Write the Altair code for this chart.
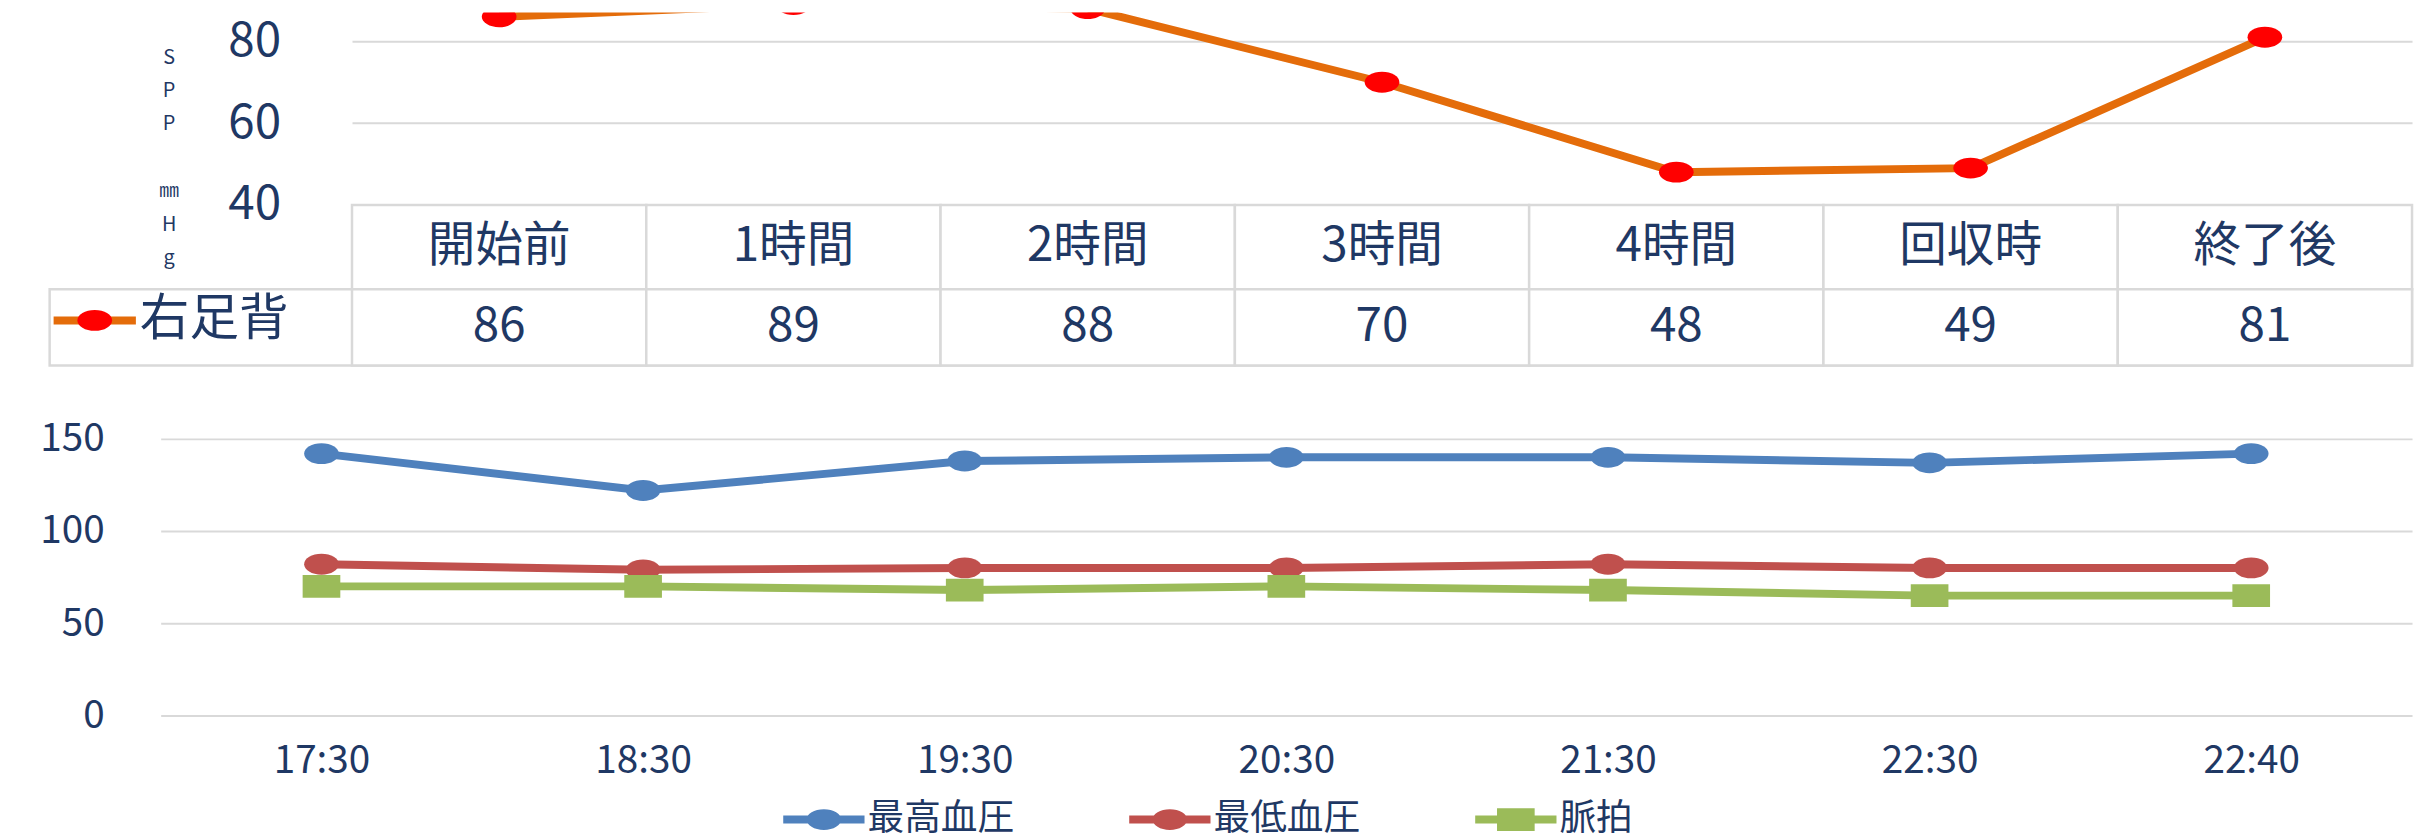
import altair as alt
import pandas as pd

# ---------------- data ----------------
spp_points = ["開始前", "1時間", "2時間", "3時間", "4時間", "回収時", "終了後"]
spp_values = [86, 89, 88, 70, 48, 49, 81]
spp_series = "右足背"
spp_ticks = [40, 60, 80]

vital_times = ["17:30", "18:30", "19:30", "20:30", "21:30", "22:30", "22:40"]
sbp = [142, 122, 138, 140, 140, 137, 142]
dbp = [82, 79, 80, 80, 82, 80, 80]
pulse = [70, 70, 68, 70, 68, 65, 65]
vital_series = ["最高血圧", "最低血圧", "脈拍"]
vital_ticks = [0, 50, 100, 150]

# ---------------- style ----------------
FONT = "Noto Sans CJK JP"
NAVY = "#1F3864"
GRID = "#D9D9D9"
ORANGE = "#E46C0A"
RED = "#FF0000"
VCOLORS = ["#4F81BD", "#C0504D", "#9BBB59"]
W = 2383

ELL = "M-1,0A1,0.6,0,1,1,1,0A1,0.6,0,1,1,-1,0Z"
RECT = "M-1,-0.6L1,-0.6L1,0.6L-1,0.6Z"
LEG_LINE = "M-1,-0.1L1,-0.1L1,0.1L-1,0.1Z"
LEG_ELL = "M-0.427,0A0.427,0.256,0,1,1,0.427,0A0.427,0.256,0,1,1,-0.427,0Z"
LEG_RECT = "M-0.463,-0.28L0.463,-0.28L0.463,0.28L-0.463,0.28Z"
TOP_LEG_ELL = "M-0.422,0A0.422,0.253,0,1,1,0.422,0A0.422,0.253,0,1,1,-0.422,0Z"

df_top = pd.DataFrame({"時点": spp_points, "SPP": spp_values,
                       "系列": [spp_series] * len(spp_points),
                       "行": ["r"] * len(spp_points)})

rows = []
for s, vals in zip(vital_series, [sbp, dbp, pulse]):
    for t, v in zip(vital_times, vals):
        rows.append({"時刻": t, "系列": s, "値": v})
df_v = pd.DataFrame(rows)

# ---------------- top chart ----------------
xs_top = alt.Scale(domain=spp_points, range=[305, W], paddingInner=0, paddingOuter=0)
x_top = alt.X("時点:N", sort=spp_points, scale=xs_top, axis=None)
y_top = alt.Y("SPP:Q", scale=alt.Scale(domain=[40, 87.03], nice=False, zero=False),
              axis=alt.Axis(values=spp_ticks, grid=True, gridColor=GRID, gridWidth=2,
                            domain=False, ticks=False, tickSize=0, labelPadding=-233, minExtent=0,
                            labelFontSize=48, labelColor=NAVY, labelFont=FONT,
                            title=["S", "P", "P", "\u2800", "㎜", "H", "g"], titleAngle=0,
                            titleFontSize=20, titleFont=FONT, titleColor=NAVY,
                            titleFontWeight="normal", titleLineHeight=33.7,
                            titleAlign="center", titleBaseline="top",
                            titleX=120, titleY=35))

top_line = alt.Chart(df_top).mark_line(strokeWidth=8, clip=True).encode(
    x=x_top, y=y_top,
    color=alt.Color("系列:N", scale=alt.Scale(domain=[spp_series], range=[ORANGE]),
                    legend=alt.Legend(orient="none", legendX=0, legendY=265, title=None,
                                      symbolType="M-1,0L1,0", symbolSize=83 ** 2,
                                      symbolStrokeWidth=8, labelFontSize=50, labelFont=FONT,
                                      labelColor=NAVY, labelOffset=0, padding=0,
                                      labelLimit=400, zindex=1)))

top_pts = alt.Chart(df_top).transform_calculate(mk="'●'").mark_point(
    filled=True, shape=ELL, size=1225, opacity=1, strokeWidth=0, clip=True).encode(
    x=x_top, y=y_top,
    fill=alt.Fill("mk:N", scale=alt.Scale(domain=["●"], range=[RED]),
                  legend=alt.Legend(orient="none", legendX=0, legendY=265, title=None,
                                    symbolType=TOP_LEG_ELL, symbolSize=83 ** 2,
                                    symbolStrokeWidth=8, symbolStrokeColor="transparent",
                                    labelExpr="''", padding=0, zindex=2)))

top = alt.layer(top_line, top_pts).properties(
    width=W, height=194, view=alt.ViewBackground(fill="white", stroke="transparent"))

# ---------------- table rows ----------------
x_tab = alt.X("時点:N", sort=spp_points, scale=xs_top, axis=None)
y_row = alt.Y("行:N", axis=None, scale=alt.Scale(paddingInner=0, paddingOuter=0))

hdr_rect = alt.Chart(df_top).mark_rect(fill="white", stroke=GRID, strokeWidth=2.5).encode(x=x_tab, y=y_row)
hdr_text = alt.Chart(df_top).mark_text(fontSize=48, font=FONT, color=NAVY, baseline="middle",
                                       align="center").encode(x=x_tab, y=y_row, text="時点:N")
header = alt.layer(hdr_rect, hdr_text).properties(
    width=W, height=85, view=alt.ViewBackground(fill="transparent", stroke="transparent"))

val_rect = alt.Chart(df_top).mark_rect(fill="white", stroke=GRID, strokeWidth=2.5).encode(x=x_tab, y=y_row)
val_text = alt.Chart(df_top).mark_text(fontSize=48, font=FONT, color=NAVY, baseline="middle",
                                       align="center").encode(x=x_tab, y=y_row, text="SPP:Q")
datarow = alt.layer(val_rect, val_text).properties(
    width=W, height=77, view=alt.ViewBackground(fill="transparent", stroke=GRID, strokeWidth=2.5))

# ---------------- bottom chart ----------------
xs_bot = alt.Scale(domain=vital_times, range=[112, W], paddingInner=0, paddingOuter=0)
x_bot = alt.X("時刻:N", sort=vital_times, scale=xs_bot,
              axis=alt.Axis(title=None, labelAngle=0, labelFontSize=39, labelFont=FONT,
                            labelColor=NAVY, labelPadding=46, labelBaseline="middle",
                            domain=False, ticks=False, tickSize=0, grid=False))
y_bot = alt.Y("値:Q", scale=alt.Scale(domain=[0, 189.8], nice=False, zero=True),
              axis=alt.Axis(values=vital_ticks, title=None, grid=True, gridColor=GRID, gridWidth=2,
                            domain=False, ticks=False, tickSize=0, labelPadding=-55, minExtent=0,
                            labelFontSize=39, labelColor=NAVY, labelFont=FONT))
# colour of the drawn marks (legend comes from the fill/shape channels below)
color_bot = alt.Color("系列:N", sort=vital_series, scale=alt.Scale(range=VCOLORS), legend=None)

b_line = alt.Chart(df_v).mark_line(strokeWidth=8).encode(x=x_bot, y=y_bot, color=color_bot)
b_pts1 = alt.Chart(df_v).transform_filter(
    alt.FieldOneOfPredicate(field="系列", oneOf=vital_series[:2])
).mark_point(filled=True, shape=ELL, size=1225, opacity=1, strokeWidth=0).encode(
    x=x_bot, y=y_bot, color=color_bot)
b_pts2 = alt.Chart(df_v).transform_filter(
    alt.FieldEqualPredicate(field="系列", equal=vital_series[2])
).mark_point(filled=True, shape=RECT, size=1444, opacity=1, strokeWidth=0).encode(
    x=x_bot, y=y_bot, color=color_bot)

leg_bot = alt.Legend(orient="none", legendX=740, legendY=417, direction="horizontal", title=None,
                     symbolSize=6724, symbolStrokeWidth=0, symbolOpacity=1, labelFontSize=37,
                     labelFont=FONT, labelColor=NAVY, labelOffset=3, columnPadding=116,
                     padding=0, labelLimit=400)
b_leg = alt.Chart(df_v).transform_filter("false").mark_point(
    filled=True, opacity=1, strokeWidth=0).encode(
    x=x_bot, y=y_bot,
    fill=alt.Fill("系列:N", scale=alt.Scale(domain=vital_series, range=VCOLORS), legend=leg_bot),
    shape=alt.Shape("系列:N", scale=alt.Scale(domain=vital_series,
                                             range=[LEG_LINE + " " + LEG_ELL,
                                                    LEG_LINE + " " + LEG_ELL,
                                                    LEG_LINE + " " + LEG_RECT]),
                    legend=leg_bot))

bottom = alt.layer(b_line, b_pts1, b_pts2, b_leg).properties(
    width=W, height=353, view=alt.ViewBackground(fill="transparent", stroke="transparent"))

chart = alt.vconcat(top, header, datarow, bottom, spacing=0, bounds="flush").resolve_scale(
    x="independent", y="independent", color="independent", fill="independent", shape="independent"
).properties(
    padding={"left": 31, "top": 0, "right": 0, "bottom": 0}
).configure(font=FONT).configure_view(stroke="transparent")

chart.save("out.html", embed_options={"renderer": "svg", "actions": False})
